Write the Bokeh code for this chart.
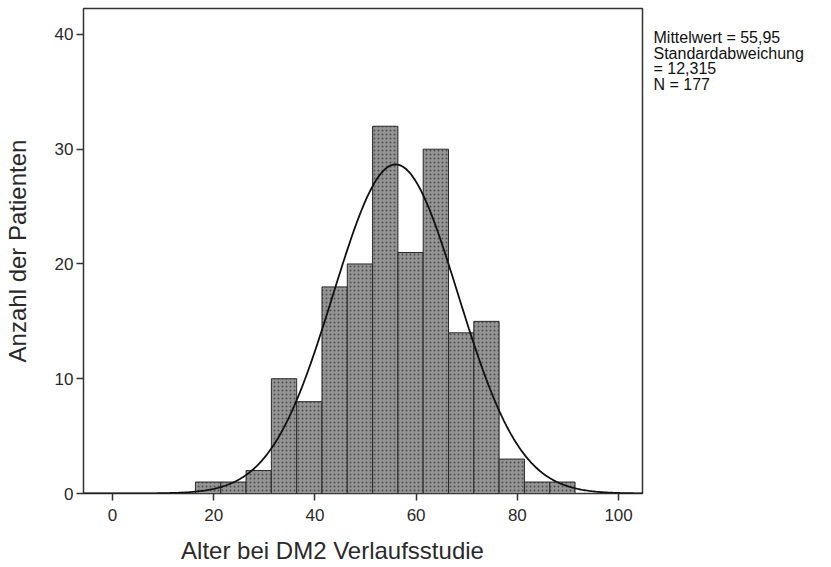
import numpy as np
from bokeh.plotting import figure
from bokeh.layouts import row, column
from bokeh.models import Range1d, FixedTicker
from bokeh.core.properties import value
from bokeh.embed import file_html
from bokeh.resources import INLINE

# Data
bin_left = [16.4, 21.4, 26.4, 31.4, 36.4, 41.4, 46.4, 51.4, 56.4, 61.4, 66.4, 71.4, 76.4, 81.4, 86.4]
counts = [1, 1, 2, 10, 8, 18, 20, 32, 21, 30, 14, 15, 3, 1, 1]
bin_width = 5.0
mean = 55.95
sd = 12.315
n = 177
x_ticks = [0, 20, 40, 60, 80, 100]
y_ticks = [0, 10, 20, 30, 40]
stats_text = ["Mittelwert = 55,95", "Standardabweichung", "= 12,315", "N = 177"]
x_title = "Alter bei DM2 Verlaufsstudie"
y_title = "Anzahl der Patienten"

FONT = "Liberation Sans"
TOTAL_W, TOTAL_H = 830, 566
PW, PH = 645, 533

p = figure(width=PW, height=PH, output_backend="svg", toolbar_location=None,
           x_range=Range1d(-5.72, 104.73), y_range=Range1d(0, 42.26),
           min_border_left=82, min_border_right=PW - 642, min_border_top=8,
           min_border_bottom=PH - 493)
p.background_fill_color = "white"
p.border_fill_color = "white"
p.outline_line_color = "#333333"
p.outline_line_width = 1.5
p.xgrid.visible = False
p.ygrid.visible = False

lefts = np.array(bin_left)
p.quad(left=lefts, right=lefts + bin_width, bottom=0, top=counts,
       fill_color="#949494", line_color="#2a2a2a", line_width=1,
       hatch_pattern="dot", hatch_color="#505050", hatch_scale=4, hatch_weight=1.5)

xs = np.linspace(-5.72, 104.73, 400)
ys = n * bin_width / (sd * np.sqrt(2 * np.pi)) * np.exp(-0.5 * ((xs - mean) / sd) ** 2)
p.line(xs, ys, line_color="#111111", line_width=1.8)

for ax in (p.xaxis[0], p.yaxis[0]):
    ax.axis_line_color = None
    ax.major_tick_line_color = "#333333"
    ax.major_tick_line_width = 1.5
    ax.major_tick_out = 7
    ax.major_tick_in = 0
    ax.minor_tick_line_color = None
    ax.major_label_text_font = FONT
    ax.major_label_text_font_size = "17px"
    ax.major_label_text_color = "#2a2a2a"

p.xaxis.ticker = FixedTicker(ticks=x_ticks)
p.yaxis.ticker = FixedTicker(ticks=y_ticks)
p.xaxis.major_label_standoff = 8
p.yaxis.major_label_standoff = 3
p.yaxis.axis_label = y_title
p.yaxis.axis_label_text_font = FONT
p.yaxis.axis_label_text_font_size = "24px"
p.yaxis.axis_label_text_font_style = "normal"
p.yaxis.axis_label_text_color = "#2a2a2a"
p.yaxis.axis_label_standoff = 21

# right panel with the statistics text
RW = TOTAL_W - PW
rfig = figure(width=RW, height=PH, output_backend="svg", toolbar_location=None,
              x_range=Range1d(0, RW), y_range=Range1d(PH, 0),
              x_axis_location=None, y_axis_location=None,
              min_border=0, outline_line_color=None)
rfig.xgrid.visible = False
rfig.ygrid.visible = False
line_y = [32, 49, 66, 83]
rfig.text(x=[8] * len(stats_text), y=line_y, text=stats_text, text_align="left",
          text_baseline="middle", text_font=value(FONT), text_font_size="16px",
          text_color="#111111")

# bottom panel with the x-axis title
BH = TOTAL_H - PH
bfig = figure(width=TOTAL_W, height=BH, output_backend="svg", toolbar_location=None,
              x_range=Range1d(0, TOTAL_W), y_range=Range1d(BH, 0),
              x_axis_location=None, y_axis_location=None,
              min_border=0, outline_line_color=None)
bfig.xgrid.visible = False
bfig.ygrid.visible = False
bfig.text(x=[332], y=[17], text=[x_title], text_align="center", text_baseline="middle",
          text_font=value(FONT), text_font_size="24px", text_color="#2a2a2a")

layout = column(row(p, rfig, spacing=0), bfig, spacing=0)
open("out.html", "w").write(file_html(layout, INLINE))
